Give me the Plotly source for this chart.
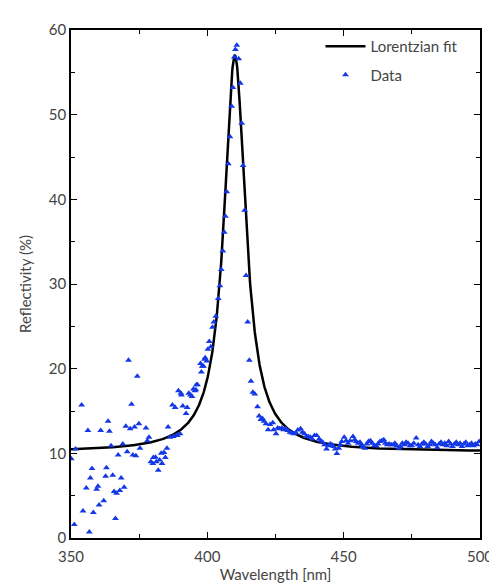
import numpy as np
import plotly.graph_objects as go

# Measured data (wavelength in nm, reflectivity in %)
data_wavelength = [
    350.1, 351.2, 351.7, 353.9, 354.4, 355.6, 356.2, 356.7, 357.1, 357.7,
    358.2, 359.4, 359.9, 360.3, 360.9, 362.0, 362.7, 363.0, 363.6, 364.1,
    364.7, 365.3, 365.8, 366.3, 366.7, 367.3, 367.9, 368.4, 369.0, 369.5,
    370.1, 370.6, 371.1, 371.7, 372.2, 372.7, 373.3, 373.8, 374.3, 374.9,
    375.3, 377.5, 378.0, 378.6, 379.3, 380.0, 380.2, 381.0, 381.3, 382.0,
    382.5, 383.1, 383.4, 384.1, 384.6, 385.2, 385.6, 386.3, 387.2, 387.5,
    388.2, 388.6, 389.0, 389.4, 390.0, 390.3, 390.5, 391.0, 392.2, 392.6,
    393.2, 393.8, 394.4, 394.9, 395.4, 395.8, 396.0, 396.4, 397.5, 397.8,
    398.1, 398.6, 399.0, 399.2, 399.8, 400.2, 400.7, 401.3, 401.9, 402.4,
    403.1, 404.0, 404.6, 405.1, 405.7, 406.2, 406.6, 407.1, 407.7, 408.3,
    408.9, 409.4, 409.9, 410.3, 410.8, 411.5, 412.1, 412.6, 413.1, 413.7,
    414.2, 414.8, 415.4, 416.0, 416.7, 417.4, 418.4, 419.0, 419.6, 420.2,
    420.8, 421.5, 422.3, 423.0, 424.0, 424.3, 425.2, 425.8, 426.5, 427.3,
    428.0, 428.7, 429.5, 430.3, 431.0, 431.8, 432.5, 433.2, 434.2, 434.9,
    435.6, 436.3, 437.0, 437.8, 438.5, 439.3, 440.1, 441.0, 441.6, 442.3,
    443.0, 443.7, 444.4, 445.1, 445.7, 446.3, 446.9, 447.5, 448.2, 448.8,
    449.3, 450.2, 450.9, 451.6, 452.4, 453.4, 454.0, 454.6, 455.3, 456.0,
    456.6, 457.0, 457.8, 458.5, 459.1, 459.8, 460.5, 461.2, 461.9, 462.6,
    463.3, 464.0, 464.7, 465.3, 466.0, 466.7, 467.4, 468.2, 468.8, 469.5,
    470.2, 470.8, 471.5, 472.3, 472.9, 473.6, 474.3, 475.0, 475.7, 476.6,
    477.3, 478.0, 478.7, 479.4, 480.1, 480.8, 481.5, 482.2, 482.9, 483.6,
    484.3, 485.0, 485.7, 486.4, 487.1, 487.8, 488.5, 489.2, 489.9, 490.6,
    491.3, 492.0, 492.7, 493.4, 494.1, 494.8, 495.5, 496.2, 496.9, 497.6,
    498.3, 499.0, 499.7,
]
data_reflectivity = [
    9.35, 1.6, 10.5, 15.7, 3.2, 5.9, 12.7, 0.7, 7.1, 8.2,
    3.0, 5.75, 6.1, 3.9, 12.7, 4.4, 7.3, 8.3, 13.8, 12.6,
    10.9, 7.4, 5.5, 2.3, 5.3, 9.8, 5.6, 7.1, 11.1, 6.0,
    13.2, 10.2, 21.0, 12.9, 15.8, 9.8, 13.1, 9.7, 19.1, 13.5,
    10.6, 13.0, 11.5, 11.9, 9.0, 8.8, 9.5, 9.55, 9.0, 8.0,
    9.2, 10.0, 8.8, 10.1, 9.5, 10.6, 13.1, 11.9, 15.7, 12.0,
    15.4, 12.1, 12.1, 17.4, 12.3, 17.1, 16.9, 15.6, 14.7, 15.4,
    17.1, 16.9, 16.7, 17.6, 17.4, 17.5, 18.1, 18.1, 20.6, 19.6,
    20.3, 20.3, 21.1, 21.3, 20.9, 22.3, 23.2, 22.6, 24.9, 25.5,
    26.2, 28.3, 29.8, 31.7, 33.9, 36.1, 38.0, 40.9, 44.2, 47.4,
    51.0, 53.2, 56.8, 57.7, 58.2, 56.6, 53.7, 49.0, 44.0, 38.7,
    31.0, 25.5, 21.0, 18.5, 17.2, 17.0, 15.5, 14.4, 14.0, 14.1,
    13.8, 13.5, 12.8, 13.4, 13.6, 12.8, 12.3, 13.0, 12.9, 13.0,
    12.8, 12.9, 12.7, 12.5, 12.4, 12.3, 12.4, 12.75, 12.9, 12.5,
    12.3, 12.0, 12.0, 11.9, 11.7, 12.1, 12.1, 11.7, 11.5, 11.3,
    11.0, 10.5, 10.9, 11.1, 11.0, 10.8, 10.5, 9.97, 10.6, 11.0,
    11.4, 11.9, 11.5, 11.2, 11.5, 12.0, 11.6, 11.4, 11.2, 11.3,
    11.0, 10.8, 10.6, 11.1, 11.4, 11.5, 11.2, 10.9, 10.9, 11.1,
    11.4, 11.5, 11.6, 11.2, 11.0, 11.1, 11.0, 11.0, 11.2, 10.9,
    10.6, 10.8, 11.2, 11.0, 11.3, 11.2, 10.9, 10.9, 11.2, 11.8,
    11.0, 10.8, 11.1, 11.3, 11.1, 10.8, 11.0, 11.4, 11.2, 11.0,
    10.7, 11.1, 11.3, 11.0, 11.2, 10.9, 11.4, 11.1, 10.8, 11.1,
    11.3, 11.0, 11.2, 10.8, 11.1, 11.3, 10.9, 11.0, 11.2, 10.9,
    11.1, 11.0, 11.4,
]

# Lorentzian fit parameters
fit_center = 410.1      # nm
fit_hwhm = 4.8          # nm
fit_amplitude = 46.8    # %
fit_baseline = 10.2     # %
fit_range = [350, 500]

x_ticks = [350, 400, 450, 500]
y_ticks = [0, 10, 20, 30, 40, 50, 60]

fit_x = np.linspace(fit_range[0], fit_range[1], 1201)
fit_y = fit_baseline + fit_amplitude * fit_hwhm**2 / ((fit_x - fit_center)**2 + fit_hwhm**2)

FONT = "Lato"
TXT = "#444444"

fig = go.Figure()
fig.add_trace(go.Scatter(
    x=fit_x, y=fit_y, mode="lines", name="Lorentzian fit", legendgroup="fit",
    line=dict(color="black", width=2.5),
))
fig.add_trace(go.Scatter(
    x=data_wavelength, y=data_reflectivity, mode="markers", name="Data", legendgroup="data",
    marker=dict(symbol="triangle-up", size=6, color="#1438e6", line=dict(width=0)),
))

axis_common = dict(
    showgrid=False, zeroline=False, showline=True, linecolor="black", linewidth=1.5,
    mirror="ticks", ticks="inside", ticklen=6, tickwidth=1.2, tickcolor="black",
    tickfont=dict(family=FONT, size=15, color=TXT),
)

fig.update_layout(
    width=497, height=583,
    margin=dict(l=63, r=13, t=19, b=47),
    paper_bgcolor="white", plot_bgcolor="white",
    font=dict(family=FONT, color=TXT),
    showlegend=True,
    legend=dict(
        x=0.61, y=1.0, xanchor="left", yanchor="top",
        bgcolor="rgba(0,0,0,0)", borderwidth=0,
        font=dict(family=FONT, size=15, color=TXT),
        itemwidth=40, tracegroupgap=6,
    ),
    xaxis=dict(
        range=[350, 500], tickvals=x_ticks, ticktext=[str(t) for t in x_ticks],
        minor=dict(ticks="inside", dtick=25, ticklen=4, tickcolor="black", tickwidth=1.2),
        ticklabelstandoff=4,
        title=dict(text="Wavelength [nm]", font=dict(family=FONT, size=15, color=TXT), standoff=4),
        **axis_common,
    ),
    yaxis=dict(
        range=[0, 60], tickvals=y_ticks, ticktext=[str(t) for t in y_ticks],
        minor=dict(ticks="inside", dtick=5, ticklen=4, tickcolor="black", tickwidth=1.2),
        title=dict(text="Reflectivity (%)", font=dict(family=FONT, size=15, color=TXT), standoff=14),
        **axis_common,
    ),
)

fig.write_html("out.html")
